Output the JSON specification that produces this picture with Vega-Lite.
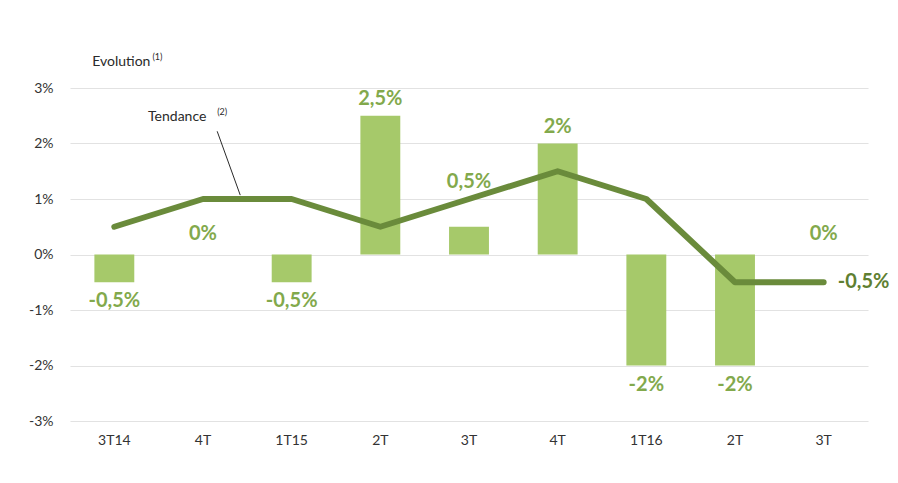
{
  "$schema": "https://vega.github.io/schema/vega-lite/v6.json",
  "width": 798,
  "height": 333,
  "autosize": "none",
  "padding": {"left": 70, "top": 88, "right": 30, "bottom": 62},
  "background": "white",
  "config": {"view": {"stroke": null}, "font": "Lato"},
  "datasets": {
    "q": [
      {"key": "3T14", "bar": -0.5, "trend": 0.5},
      {"key": "4T14", "bar": 0, "trend": 1},
      {"key": "1T15", "bar": -0.5, "trend": 1},
      {"key": "2T15", "bar": 2.5, "trend": 0.5},
      {"key": "3T15", "bar": 0.5, "trend": 1},
      {"key": "4T15", "bar": 2, "trend": 1.5},
      {"key": "1T16", "bar": -2, "trend": 1},
      {"key": "2T16", "bar": -2, "trend": -0.5},
      {"key": "3T16", "bar": 0, "trend": -0.5}
    ],
    "notes": [
      {"t": "Evolution", "x": 0.25, "y": 3.47, "kind": "main"},
      {"t": "(1)", "x": 0.93, "y": 3.56, "kind": "sup"},
      {"t": "Tendance", "x": 0.88, "y": 2.47, "kind": "main"},
      {"t": "(2)", "x": 1.66, "y": 2.56, "kind": "sup"}
    ],
    "leader": [{"x": 1.66, "y": 2.22, "x2": 1.92, "y2": 1.07}]
  },
  "layer": [
    {
      "data": {"name": "q"},
      "transform": [
        {"calculate": "replace(toString(datum.bar), '.', ',') + '%'", "as": "barLabel"},
        {"calculate": "replace(toString(datum.trend), '.', ',') + '%'", "as": "trendLabel"},
        {"calculate": "datum.bar > 0 ? max(datum.bar, datum.trend) : datum.bar", "as": "labelY"}
      ],
      "encoding": {
        "x": {
          "field": "key",
          "type": "nominal",
          "sort": null,
          "scale": {"paddingInner": 0.55, "paddingOuter": 0.275},
          "axis": {
            "title": null,
            "domain": false,
            "ticks": false,
            "labelAngle": 0,
            "labelPadding": 12,
            "labelFontSize": 14,
            "labelColor": "#333333",
            "labelExpr": "datum.label == '3T14' || slice(datum.label, 0, 1) == '1' ? datum.label : slice(datum.label, 0, 2)"
          }
        }
      },
      "layer": [
        {
          "mark": {"type": "bar", "color": "#a6c96a"},
          "encoding": {
            "y": {
              "field": "bar",
              "type": "quantitative",
              "scale": {"domain": [-3, 3], "nice": false},
              "axis": {
                "title": null,
                "values": [-3, -2, -1, 0, 1, 2, 3],
                "labelExpr": "datum.value + '%'",
                "domain": false,
                "ticks": false,
                "labelPadding": 17,
                "labelFontSize": 14,
                "labelColor": "#333333",
                "gridColor": "#e2e2e2",
                "gridWidth": 1.2
              }
            },
            "y2": {"datum": 0}
          }
        },
        {
          "mark": {"type": "line", "color": "#6a8b3b", "strokeWidth": 6, "strokeCap": "round", "strokeJoin": "round"},
          "encoding": {
            "y": {"field": "trend", "type": "quantitative", "scale": {"domain": [-3, 3], "nice": false}}
          }
        },
        {
          "transform": [{"filter": "datum.bar > 0"}],
          "mark": {"type": "text", "baseline": "bottom", "dy": -7, "fontSize": 20, "fontWeight": "bold", "color": "#82a94c"},
          "encoding": {
            "y": {"field": "labelY", "type": "quantitative", "scale": {"domain": [-3, 3], "nice": false}},
            "text": {"field": "barLabel"}
          }
        },
        {
          "transform": [{"filter": "datum.bar == 0"}],
          "mark": {"type": "text", "baseline": "bottom", "dy": -11, "fontSize": 20, "fontWeight": "bold", "color": "#82a94c"},
          "encoding": {
            "y": {"field": "labelY", "type": "quantitative", "scale": {"domain": [-3, 3], "nice": false}},
            "text": {"field": "barLabel"}
          }
        },
        {
          "transform": [{"filter": "datum.bar < 0"}],
          "mark": {"type": "text", "baseline": "top", "dy": 9, "fontSize": 20, "fontWeight": "bold", "color": "#82a94c"},
          "encoding": {
            "y": {"field": "labelY", "type": "quantitative", "scale": {"domain": [-3, 3], "nice": false}},
            "text": {"field": "barLabel"}
          }
        },
        {
          "transform": [{"filter": "datum.key == '3T16'"}],
          "mark": {"type": "text", "align": "left", "baseline": "middle", "dx": 14, "fontSize": 20, "fontWeight": "bold", "color": "#5f7f32"},
          "encoding": {
            "y": {"field": "trend", "type": "quantitative", "scale": {"domain": [-3, 3], "nice": false}},
            "text": {"field": "trendLabel"}
          }
        }
      ]
    },
    {
      "data": {"name": "notes"},
      "mark": {"type": "text", "align": "left", "baseline": "middle", "color": "#2a2a2a"},
      "encoding": {
        "x": {"field": "x", "type": "quantitative", "scale": {"domain": [0, 9], "nice": false, "zero": false}, "axis": null},
        "y": {"field": "y", "type": "quantitative", "scale": {"domain": [-3, 3], "nice": false}},
        "text": {"field": "t"},
        "size": {"condition": {"test": "datum.kind == 'sup'", "value": 9}, "value": 14}
      }
    },
    {
      "data": {"name": "leader"},
      "mark": {"type": "rule", "color": "#2a2a2a", "strokeWidth": 1},
      "encoding": {
        "x": {"field": "x", "type": "quantitative", "scale": {"domain": [0, 9], "nice": false, "zero": false}, "axis": null},
        "x2": {"field": "x2"},
        "y": {"field": "y", "type": "quantitative", "scale": {"domain": [-3, 3], "nice": false}},
        "y2": {"field": "y2"}
      }
    }
  ],
  "resolve": {"scale": {"x": "independent"}}
}
